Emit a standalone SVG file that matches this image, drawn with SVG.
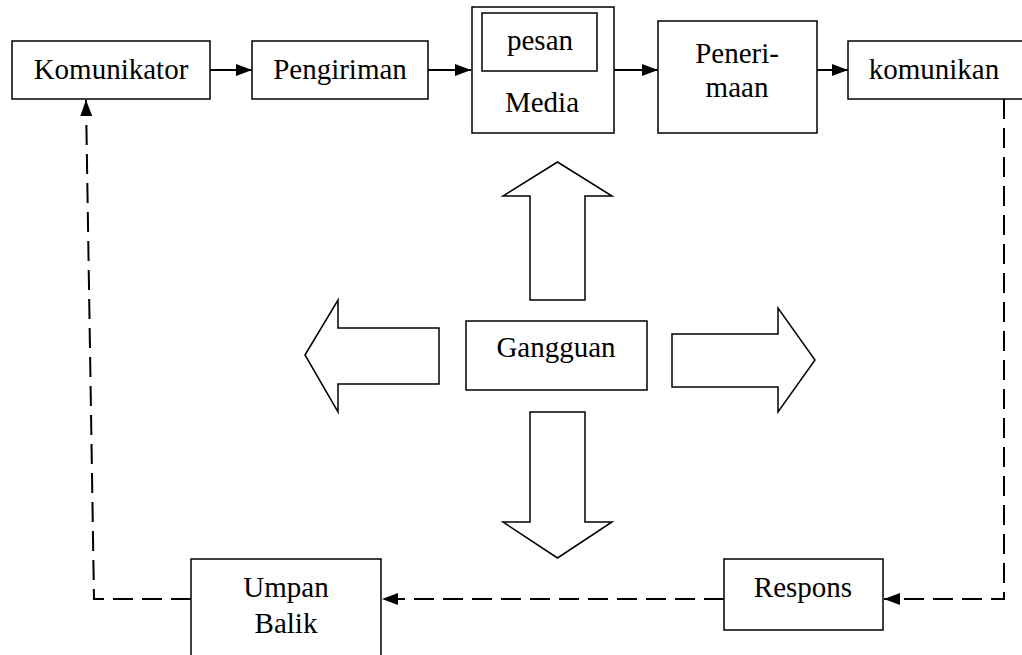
<svg xmlns="http://www.w3.org/2000/svg" width="1022" height="655" viewBox="0 0 1022 655">
<defs>
<marker id="ah" viewBox="0 0 8 6" refX="8" refY="3" markerWidth="8" markerHeight="6.5" markerUnits="strokeWidth" orient="auto">
<path d="M0,0 L8,3 L0,6 Z" fill="#000"/>
</marker>
</defs>
<style>
.box{fill:#fff;stroke:#000;stroke-width:1.5}
.t{font-family:"Liberation Serif","DejaVu Serif",serif;font-size:29px;fill:#000;text-anchor:middle}
.c{fill:none;stroke:#000;stroke-width:2}
.d{fill:none;stroke:#000;stroke-width:2;stroke-dasharray:20 9}
.big{fill:#fff;stroke:#000;stroke-width:1.5;stroke-linejoin:miter}
</style>
<rect width="1022" height="655" fill="#fff"/>
<g id="connectors">
<line class="c" x1="210" y1="70" x2="252" y2="70" marker-end="url(#ah)"/>
<line class="c" x1="428" y1="70" x2="471" y2="70" marker-end="url(#ah)"/>
<line class="c" x1="614" y1="70" x2="658" y2="70" marker-end="url(#ah)"/>
<line class="c" x1="817" y1="70" x2="848" y2="70" marker-end="url(#ah)"/>
<polyline class="d" points="1004,99 1004,599 884,599" marker-end="url(#ah)"/>
<line class="d" x1="724" y1="599" x2="382" y2="599" marker-end="url(#ah)"/>
<polyline class="d" points="191,599 94,599 86,100" marker-end="url(#ah)"/>
</g>
<g id="komunikator">
<rect class="box" x="12" y="41" width="198" height="58"/>
<text class="t" x="111" y="79">Komunikator</text>
</g>
<g id="pengiriman">
<rect class="box" x="252" y="41" width="176" height="58"/>
<text class="t" x="340" y="79">Pengiriman</text>
</g>
<g id="media">
<rect class="box" x="472" y="7" width="142" height="126"/>
<rect class="box" x="482" y="13" width="115" height="58"/>
<text class="t" x="540" y="50">pesan</text>
<text class="t" x="542" y="112">Media</text>
</g>
<g id="penerimaan">
<rect class="box" x="658" y="21" width="159" height="112"/>
<text class="t" x="737" y="63">Peneri-</text>
<text class="t" x="737" y="97">maan</text>
</g>
<g id="komunikan">
<rect class="box" x="848" y="41" width="180" height="58"/>
<text class="t" x="934" y="79">komunikan</text>
</g>
<g id="gangguan">
<rect class="box" x="466" y="321" width="181" height="69"/>
<text class="t" x="556" y="357">Gangguan</text>
</g>
<g id="arrow-up">
<polygon class="big" points="557.5,162 612,196 585,196 585,300 530,300 530,196 503,196"/>
</g>
<g id="arrow-down">
<polygon class="big" points="530,412 585,412 585,522 612,522 557.5,558 503,522 530,522"/>
</g>
<g id="arrow-left">
<polygon class="big" points="305,355 338,300 338,328 439,328 439,384 338,384 338,412"/>
</g>
<g id="arrow-right">
<polygon class="big" points="672,334 778,334 778,308 815,360 778,412 778,387 672,387"/>
</g>
<g id="respons">
<rect class="box" x="724" y="559" width="159" height="71"/>
<text class="t" x="803" y="597">Respons</text>
</g>
<g id="umpan-balik">
<rect class="box" x="191" y="559" width="190" height="110"/>
<text class="t" x="286" y="597">Umpan</text>
<text class="t" x="286" y="633">Balik</text>
</g>
</svg>
